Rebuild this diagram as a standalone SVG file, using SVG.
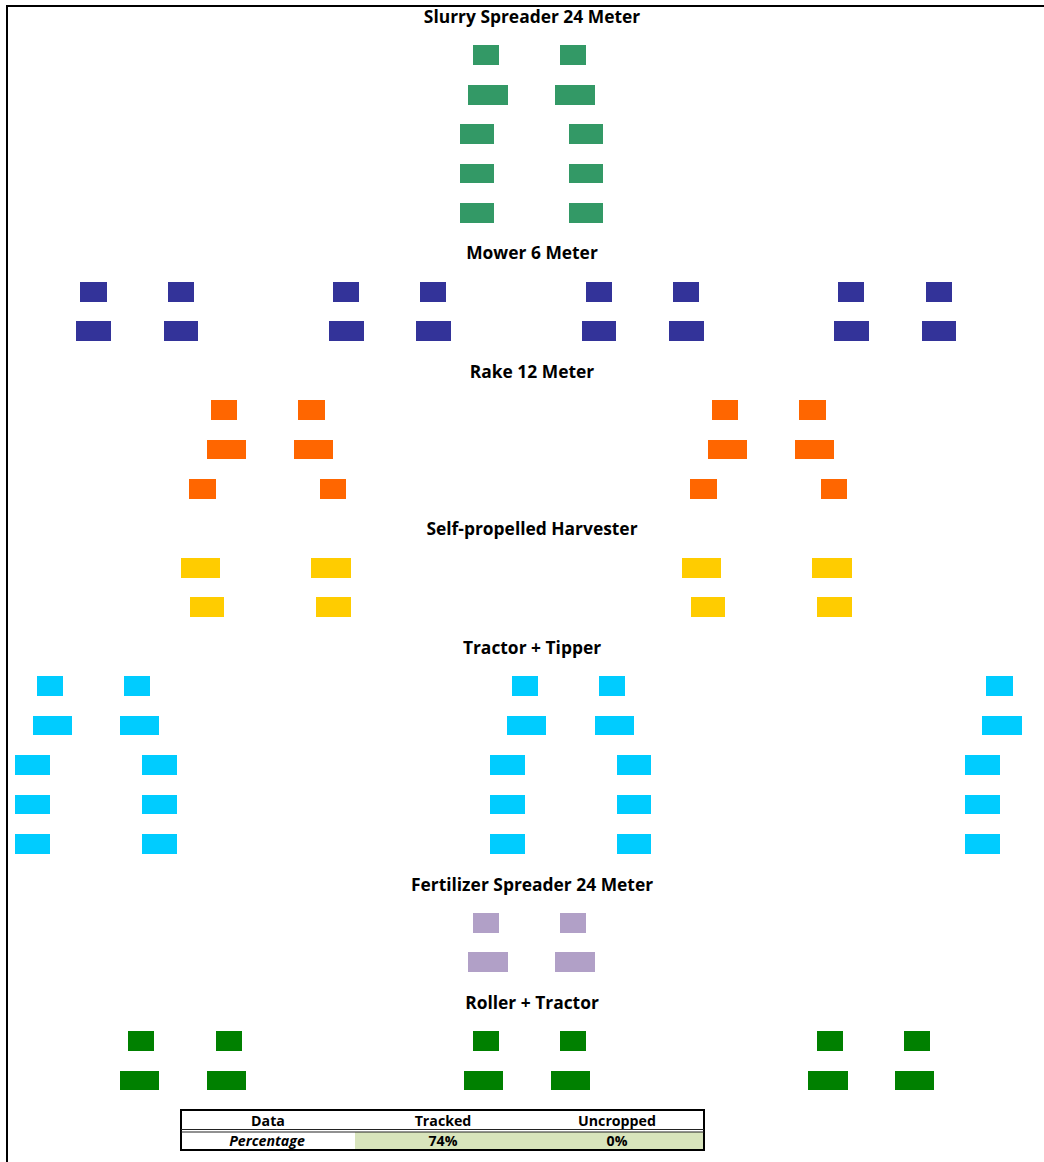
<svg xmlns="http://www.w3.org/2000/svg" width="1044" height="1162" viewBox="0 0 1044 1162">
<style>
.t{font-family:"Open Sans","Liberation Sans",sans-serif;font-weight:bold;font-size:17.4px;fill:#000;text-anchor:middle}
.h{font-family:"Open Sans","Liberation Sans",sans-serif;font-weight:bold;font-size:14.2px;fill:#000;text-anchor:middle}
.ss rect{fill:#339966}
.mw rect{fill:#333399}
.rk rect{fill:#FF6600}
.hv rect{fill:#FFCC00}
.tt rect{fill:#00CCFF}
.fs rect{fill:#B1A0C7}
.rt rect{fill:#008000}
</style>
<rect width="1044" height="1162" fill="#fff"/>
<path d="M7,1162 V6 H1044" fill="none" stroke="#000" stroke-width="2"/>

<g id="slurry-spreader" class="ss">
<text class="t" x="532" y="23">Slurry Spreader 24 Meter</text>
<rect x="473" y="45" width="26" height="20"/><rect x="560" y="45" width="26" height="20"/>
<rect x="468" y="85" width="40" height="20"/><rect x="555" y="85" width="40" height="20"/>
<rect x="460" y="124" width="34" height="20"/><rect x="569" y="124" width="34" height="20"/>
<rect x="460" y="164" width="34" height="19"/><rect x="569" y="164" width="34" height="19"/>
<rect x="460" y="203" width="34" height="20"/><rect x="569" y="203" width="34" height="20"/>
</g>

<g id="mower" class="mw">
<text class="t" x="532" y="259">Mower 6 Meter</text>
<rect x="80" y="282" width="27" height="20"/><rect x="168" y="282" width="26" height="20"/>
<rect x="333" y="282" width="26" height="20"/><rect x="420" y="282" width="26" height="20"/>
<rect x="586" y="282" width="26" height="20"/><rect x="673" y="282" width="26" height="20"/>
<rect x="838" y="282" width="26" height="20"/><rect x="926" y="282" width="26" height="20"/>
<rect x="76" y="321" width="35" height="20"/><rect x="164" y="321" width="34" height="20"/>
<rect x="329" y="321" width="35" height="20"/><rect x="416" y="321" width="35" height="20"/>
<rect x="582" y="321" width="34" height="20"/><rect x="669" y="321" width="35" height="20"/>
<rect x="834" y="321" width="35" height="20"/><rect x="922" y="321" width="34" height="20"/>
</g>

<g id="rake" class="rk">
<text class="t" x="532" y="378">Rake 12 Meter</text>
<rect x="211" y="400" width="26" height="20"/><rect x="298" y="400" width="27" height="20"/>
<rect x="712" y="400" width="26" height="20"/><rect x="799" y="400" width="27" height="20"/>
<rect x="207" y="440" width="39" height="19"/><rect x="294" y="440" width="39" height="19"/>
<rect x="708" y="440" width="39" height="19"/><rect x="795" y="440" width="39" height="19"/>
<rect x="189" y="479" width="27" height="20"/><rect x="320" y="479" width="26" height="20"/>
<rect x="690" y="479" width="27" height="20"/><rect x="821" y="479" width="26" height="20"/>
</g>

<g id="harvester" class="hv">
<text class="t" x="532" y="535">Self-propelled Harvester</text>
<rect x="181" y="558" width="39" height="20"/><rect x="311" y="558" width="40" height="20"/>
<rect x="682" y="558" width="39" height="20"/><rect x="812" y="558" width="40" height="20"/>
<rect x="190" y="597" width="34" height="20"/><rect x="316" y="597" width="35" height="20"/>
<rect x="691" y="597" width="34" height="20"/><rect x="817" y="597" width="35" height="20"/>
</g>

<g id="tractor-tipper" class="tt">
<text class="t" x="532" y="654">Tractor + Tipper</text>
<rect x="37" y="676" width="26" height="20"/><rect x="124" y="676" width="26" height="20"/>
<rect x="512" y="676" width="26" height="20"/><rect x="599" y="676" width="26" height="20"/>
<rect x="986" y="676" width="27" height="20"/>
<rect x="33" y="716" width="39" height="19"/><rect x="120" y="716" width="39" height="19"/>
<rect x="507" y="716" width="39" height="19"/><rect x="595" y="716" width="39" height="19"/>
<rect x="982" y="716" width="40" height="19"/>
<rect x="15" y="755" width="35" height="20"/><rect x="142" y="755" width="35" height="20"/>
<rect x="490" y="755" width="35" height="20"/><rect x="617" y="755" width="34" height="20"/>
<rect x="965" y="755" width="35" height="20"/>
<rect x="15" y="795" width="35" height="19"/><rect x="142" y="795" width="35" height="19"/>
<rect x="490" y="795" width="35" height="19"/><rect x="617" y="795" width="34" height="19"/>
<rect x="965" y="795" width="35" height="19"/>
<rect x="15" y="834" width="35" height="20"/><rect x="142" y="834" width="35" height="20"/>
<rect x="490" y="834" width="35" height="20"/><rect x="617" y="834" width="34" height="20"/>
<rect x="965" y="834" width="35" height="20"/>
</g>

<g id="fertilizer-spreader" class="fs">
<text class="t" x="532" y="891">Fertilizer Spreader 24 Meter</text>
<rect x="473" y="913" width="26" height="20"/><rect x="560" y="913" width="26" height="20"/>
<rect x="468" y="952" width="40" height="20"/><rect x="555" y="952" width="40" height="20"/>
</g>

<g id="roller-tractor" class="rt">
<text class="t" x="532" y="1009">Roller + Tractor</text>
<rect x="128" y="1031" width="26" height="20"/><rect x="216" y="1031" width="26" height="20"/>
<rect x="473" y="1031" width="26" height="20"/><rect x="560" y="1031" width="26" height="20"/>
<rect x="817" y="1031" width="26" height="20"/><rect x="904" y="1031" width="26" height="20"/>
<rect x="120" y="1071" width="39" height="19"/><rect x="207" y="1071" width="39" height="19"/>
<rect x="464" y="1071" width="39" height="19"/><rect x="551" y="1071" width="39" height="19"/>
<rect x="808" y="1071" width="40" height="19"/><rect x="895" y="1071" width="39" height="19"/>
</g>

<g id="connectors"></g>

<g id="legend-table">
<rect x="355" y="1132" width="349" height="18" fill="#D8E4BC"/>
<rect x="181" y="1110" width="523" height="40" fill="none" stroke="#000" stroke-width="2"/>
<line x1="181" y1="1129.5" x2="704" y2="1129.5" stroke="#222" stroke-width="1"/>
<line x1="181" y1="1132" x2="704" y2="1132" stroke="#222" stroke-width="1"/>
<text class="h" x="268" y="1126">Data</text>
<text class="h" x="443" y="1126">Tracked</text>
<text class="h" x="617" y="1126">Uncropped</text>
<text class="h" x="267" y="1146" font-style="italic" font-size="14.8px">Percentage</text>
<text class="h" x="443" y="1146">74%</text>
<text class="h" x="617" y="1146">0%</text>
</g>
</svg>
